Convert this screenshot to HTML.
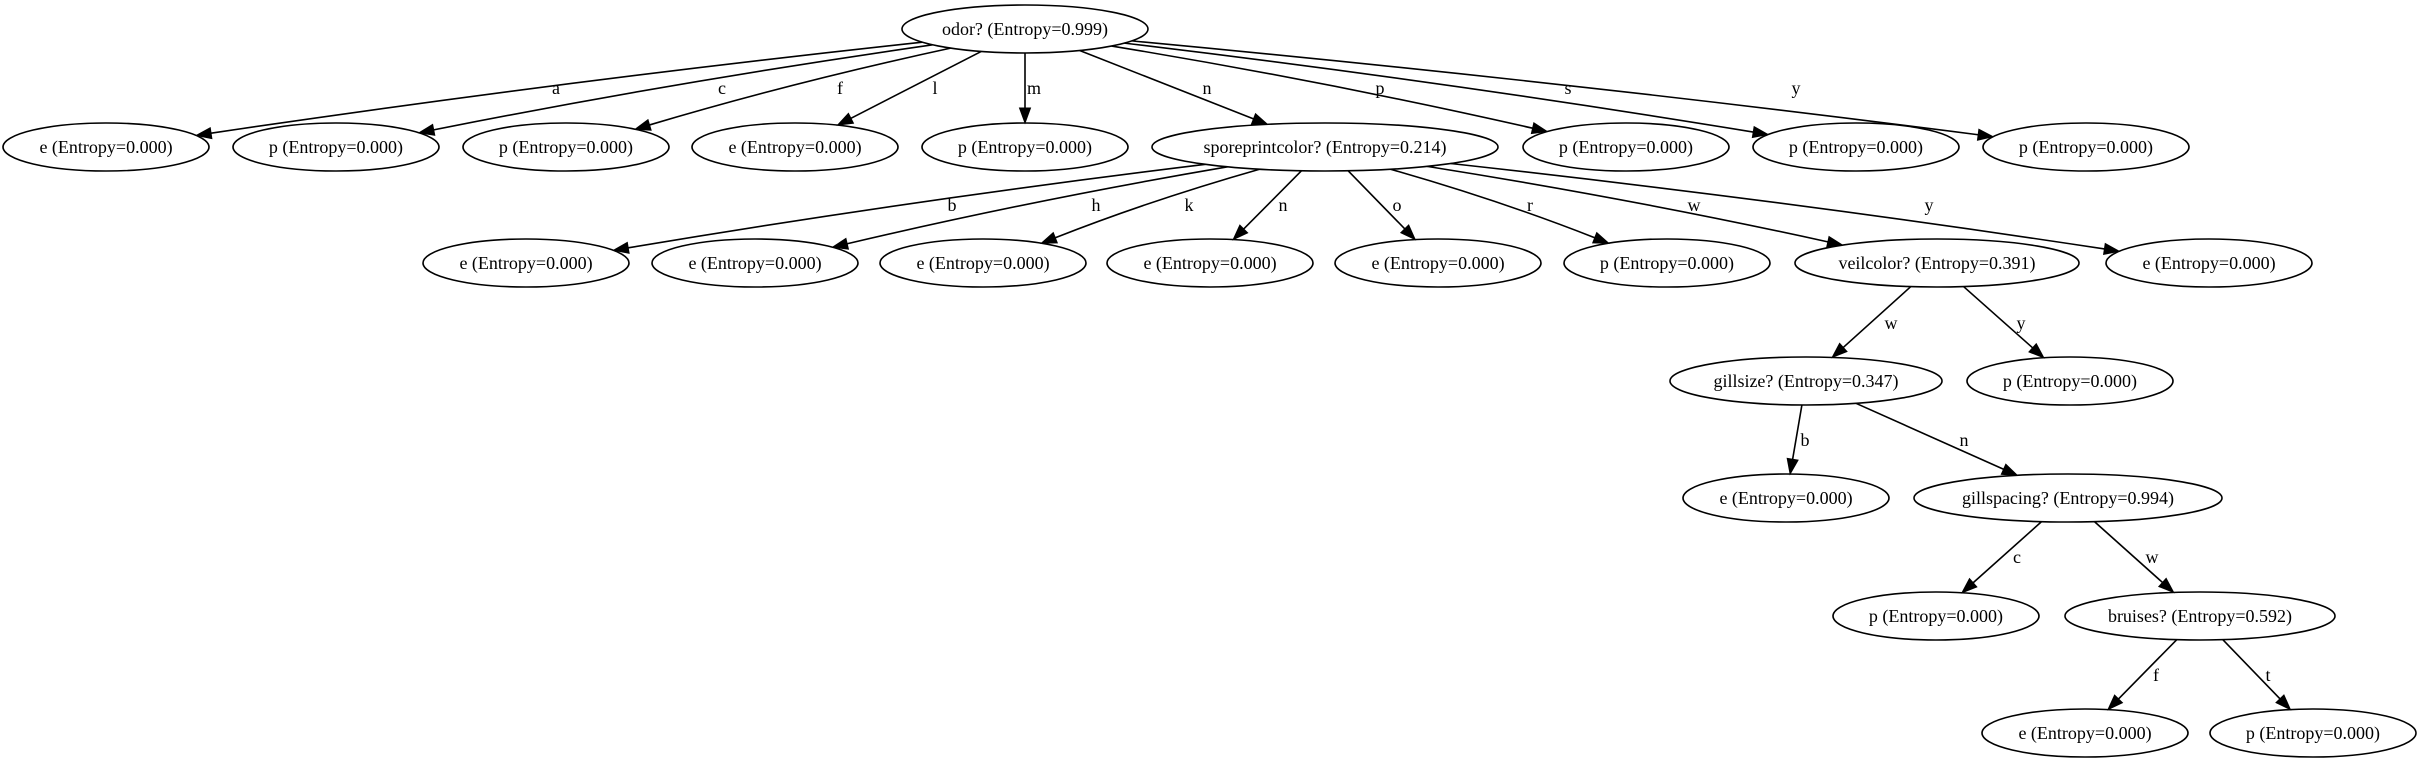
<!DOCTYPE html>
<html><head><meta charset="utf-8"><style>
html,body{margin:0;padding:0;background:#fff;}
svg{display:block;}
text{font-family:"Liberation Serif",serif;font-size:18px;fill:#000;}
</style></head><body>
<svg id="g" width="2421" height="763" viewBox="0 0 2421 763" xmlns="http://www.w3.org/2000/svg">
<g id="edges" stroke="#000" stroke-width="1.6" fill="none"></g>
<g id="arrows" fill="#000" stroke="#000" stroke-width="1"></g>
<g id="nodes" fill="none" stroke="#000" stroke-width="1.6">
<ellipse cx="1025" cy="29" rx="123" ry="24"/>
<ellipse cx="106" cy="147" rx="103" ry="24"/>
<ellipse cx="336" cy="147" rx="103" ry="24"/>
<ellipse cx="566" cy="147" rx="103" ry="24"/>
<ellipse cx="795" cy="147" rx="103" ry="24"/>
<ellipse cx="1025" cy="147" rx="103" ry="24"/>
<ellipse cx="1325" cy="147" rx="173" ry="24"/>
<ellipse cx="1626" cy="147" rx="103" ry="24"/>
<ellipse cx="1856" cy="147" rx="103" ry="24"/>
<ellipse cx="2086" cy="147" rx="103" ry="24"/>
<ellipse cx="526" cy="263" rx="103" ry="24"/>
<ellipse cx="755" cy="263" rx="103" ry="24"/>
<ellipse cx="983" cy="263" rx="103" ry="24"/>
<ellipse cx="1210" cy="263" rx="103" ry="24"/>
<ellipse cx="1438" cy="263" rx="103" ry="24"/>
<ellipse cx="1667" cy="263" rx="103" ry="24"/>
<ellipse cx="1937" cy="263" rx="142" ry="24"/>
<ellipse cx="2209" cy="263" rx="103" ry="24"/>
<ellipse cx="1806" cy="381" rx="136" ry="24"/>
<ellipse cx="2070" cy="381" rx="103" ry="24"/>
<ellipse cx="1786" cy="498" rx="103" ry="24"/>
<ellipse cx="2068" cy="498" rx="154" ry="24"/>
<ellipse cx="1936" cy="616" rx="103" ry="24"/>
<ellipse cx="2200" cy="616" rx="135" ry="24"/>
<ellipse cx="2085" cy="733" rx="103" ry="24"/>
<ellipse cx="2313" cy="733" rx="103" ry="24"/>
</g>
<g text-anchor="middle">
<text x="1025" y="35">odor? (Entropy=0.999)</text>
<text x="106" y="153">e (Entropy=0.000)</text>
<text x="336" y="153">p (Entropy=0.000)</text>
<text x="566" y="153">p (Entropy=0.000)</text>
<text x="795" y="153">e (Entropy=0.000)</text>
<text x="1025" y="153">p (Entropy=0.000)</text>
<text x="1325" y="153">sporeprintcolor? (Entropy=0.214)</text>
<text x="1626" y="153">p (Entropy=0.000)</text>
<text x="1856" y="153">p (Entropy=0.000)</text>
<text x="2086" y="153">p (Entropy=0.000)</text>
<text x="526" y="269">e (Entropy=0.000)</text>
<text x="755" y="269">e (Entropy=0.000)</text>
<text x="983" y="269">e (Entropy=0.000)</text>
<text x="1210" y="269">e (Entropy=0.000)</text>
<text x="1438" y="269">e (Entropy=0.000)</text>
<text x="1667" y="269">p (Entropy=0.000)</text>
<text x="1937" y="269">veilcolor? (Entropy=0.391)</text>
<text x="2209" y="269">e (Entropy=0.000)</text>
<text x="1806" y="387">gillsize? (Entropy=0.347)</text>
<text x="2070" y="387">p (Entropy=0.000)</text>
<text x="1786" y="504">e (Entropy=0.000)</text>
<text x="2068" y="504">gillspacing? (Entropy=0.994)</text>
<text x="1936" y="622">p (Entropy=0.000)</text>
<text x="2200" y="622">bruises? (Entropy=0.592)</text>
<text x="2085" y="739">e (Entropy=0.000)</text>
<text x="2313" y="739">p (Entropy=0.000)</text>
<text x="556" y="94">a</text>
<text x="722" y="94">c</text>
<text x="840" y="94">f</text>
<text x="935" y="94">l</text>
<text x="1034" y="94">m</text>
<text x="1207" y="94">n</text>
<text x="1380" y="94">p</text>
<text x="1568" y="94">s</text>
<text x="1796" y="94">y</text>
<text x="952" y="211">b</text>
<text x="1096" y="211">h</text>
<text x="1189" y="211">k</text>
<text x="1283" y="211">n</text>
<text x="1397" y="211">o</text>
<text x="1530" y="211">r</text>
<text x="1694" y="211">w</text>
<text x="1929" y="211">y</text>
<text x="1891" y="329">w</text>
<text x="2021" y="329">y</text>
<text x="1805" y="446">b</text>
<text x="1964" y="446">n</text>
<text x="2017" y="563">c</text>
<text x="2152" y="563">w</text>
<text x="2156" y="681">f</text>
<text x="2268" y="681">t</text>
</g>
</svg>
<script>
(function(){
var N={
r:[1025,29,123],
a:[106,147,103],c:[336,147,103],f:[566,147,103],l:[795,147,103],m:[1025,147,103],
s:[1325,147,173],p:[1626,147,103],ss:[1856,147,103],y:[2086,147,103],
b:[526,263,103],h:[755,263,103],k:[983,263,103],n2:[1210,263,103],o:[1438,263,103],
r2:[1667,263,103],v:[1937,263,142],y2:[2209,263,103],
g:[1806,381,136],vy:[2070,381,103],gb:[1786,498,103],gs:[2068,498,154],
gc:[1936,616,103],br:[2200,616,135],bf:[2085,733,103],bt:[2313,733,103]};
var E=[['r','a'],['r','c'],['r','f'],['r','l'],['r','m'],['r','s'],['r','p'],['r','ss'],['r','y'],
['s','b'],['s','h'],['s','k'],['s','n2'],['s','o'],['s','r2'],['s','v'],['s','y2'],
['v','g'],['v','vy'],['g','gb'],['g','gs'],['gs','gc'],['gs','br'],['br','bf'],['br','bt']];
var ns='http://www.w3.org/2000/svg',eg=document.getElementById('edges'),ag=document.getElementById('arrows');
function clip(n,dx,dy){return 1/Math.sqrt(Math.pow(dx/n[2],2)+Math.pow(dy/24,2));}
E.forEach(function(e){
var A=N[e[0]],B=N[e[1]];var dx=B[0]-A[0],dy=B[1]-A[1];
var t1=clip(A,dx,dy),t2=clip(B,dx,dy);
var sx=A[0]+dx*t1,sy=A[1]+dy*t1,ex=B[0]-dx*t2,ey=B[1]-dy*t2;
var curved=Math.abs(dx)>300;
var cx=sx+(ex-sx)*0.5,cy=sy+(ey-sy)*(curved?0.42:0.5);
var ddx=ex-cx,ddy=ey-cy;
var L=Math.sqrt(ddx*ddx+ddy*ddy),ux=ddx/L,uy=ddy/L;
var bx=ex-ux*15,by=ey-uy*15;
var pth=document.createElementNS(ns,'path');
pth.setAttribute('d','M'+sx+','+sy+' Q'+cx+','+cy+' '+bx+','+by);
eg.appendChild(pth);
var pg=document.createElementNS(ns,'polygon');
pg.setAttribute('points',ex+','+ey+' '+(bx-uy*5.5)+','+(by+ux*5.5)+' '+(bx+uy*5.5)+','+(by-ux*5.5));
ag.appendChild(pg);
});
})();
</script>
</body></html>
